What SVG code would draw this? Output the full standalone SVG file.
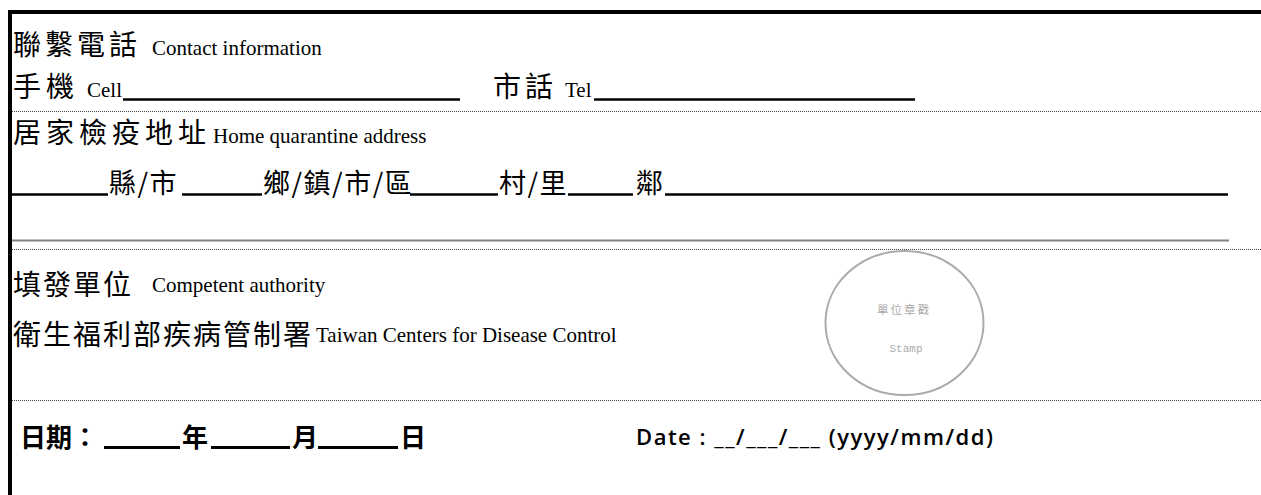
<svg xmlns="http://www.w3.org/2000/svg" width="1261" height="495" viewBox="0 0 1261 495">
<style>
.cjk{font-family:"Noto Sans CJK TC","Noto Sans CJK SC",sans-serif;font-size:28px;fill:#000;letter-spacing:4px}
.cjk2{font-family:"Noto Sans CJK TC","Noto Sans CJK SC",sans-serif;font-size:27px;fill:#000;letter-spacing:1.5px}
.lat{font-family:"Liberation Serif","Times New Roman",serif;font-size:21px;fill:#000}
.ul{stroke:#000;stroke-width:2.5;fill:none}
.dot{stroke:#444;stroke-width:1;stroke-dasharray:1 1;fill:none}
.bold{font-family:"Noto Sans CJK TC","Noto Sans CJK SC",sans-serif;font-size:26px;font-weight:700;fill:#000}
.date{font-family:"Open Sans","Liberation Sans",sans-serif;font-size:22px;font-weight:600;fill:#000}
.stamp{font-family:"Liberation Mono",monospace;font-size:11px;fill:#aaa}
</style>
<g id="frame">
<rect x="8" y="10" width="1253" height="4" fill="#000"/>
<rect x="8" y="10" width="4" height="485" fill="#000"/>
</g>
<g id="separators">
<line class="dot" x1="12" y1="111.5" x2="1261" y2="111.5"/>
<line x1="12" y1="240.5" x2="1229" y2="240.5" stroke="#808080" stroke-width="2"/>
<line class="dot" x1="12" y1="249.5" x2="1261" y2="249.5"/>
<line class="dot" x1="12" y1="400.5" x2="1261" y2="400.5"/>
</g>
<g id="contact">
<text class="cjk" x="13" y="55">聯繫電話</text>
<text class="lat" x="152" y="55">Contact information</text>
<text class="cjk" x="13" y="97" style="letter-spacing:5px">手機</text>
<text class="lat" x="87" y="97">Cell</text>
<line class="ul" x1="123" y1="99.5" x2="460" y2="99.5"/>
<text class="cjk" x="493" y="97">市話</text>
<text class="lat" x="565" y="97">Tel</text>
<line class="ul" x1="594" y1="99.5" x2="915" y2="99.5"/>
</g>
<g id="address">
<text class="cjk" x="13" y="143" style="letter-spacing:5px">居家檢疫地址</text>
<text class="lat" x="213" y="143">Home quarantine address</text>
<line class="ul" x1="12" y1="194.5" x2="108" y2="194.5"/>
<text class="cjk2" x="109" y="193">縣/市</text>
<line class="ul" x1="182" y1="194.5" x2="262" y2="194.5"/>
<text class="cjk2" x="263" y="193">鄉/鎮/市/區</text>
<line class="ul" x1="410" y1="194.5" x2="498" y2="194.5"/>
<text class="cjk2" x="499" y="193">村/里</text>
<line class="ul" x1="568" y1="194.5" x2="633" y2="194.5"/>
<text class="cjk2" x="636" y="193">鄰</text>
<line class="ul" x1="665" y1="194.5" x2="1228" y2="194.5"/>
</g>
<g id="authority">
<text class="cjk" x="13" y="295" style="letter-spacing:2px">填發單位</text>
<text class="lat" x="152" y="292">Competent authority</text>
<text class="cjk" x="13" y="345" style="letter-spacing:2px">衛生福利部疾病管制署</text>
<text class="lat" x="316" y="342">Taiwan Centers for Disease Control</text>
</g>
<g id="stamp">
<ellipse cx="904.5" cy="323" rx="79" ry="72" fill="none" stroke="#aaa" stroke-width="2"/>
<text class="stamp" x="904" y="314" text-anchor="middle" style="font-family:'Noto Sans CJK TC',sans-serif;font-size:11.5px;letter-spacing:2px">單位章戳</text>
<text class="stamp" x="906" y="352" text-anchor="middle">Stamp</text>
</g>
<g id="date">
<text class="bold" x="20" y="447">日期：</text>
<line class="ul" x1="104" y1="447.5" x2="180" y2="447.5" style="stroke-width:3"/>
<text class="bold" x="182" y="447">年</text>
<line class="ul" x1="211" y1="447.5" x2="290" y2="447.5" style="stroke-width:3"/>
<text class="bold" x="292" y="447">月</text>
<line class="ul" x1="318" y1="447.5" x2="398" y2="447.5" style="stroke-width:3"/>
<text class="bold" x="400" y="447">日</text>
<text class="date" x="636" y="445" textLength="357" lengthAdjust="spacing">Date : __/___/___ (yyyy/mm/dd)</text>
</g>
</svg>
